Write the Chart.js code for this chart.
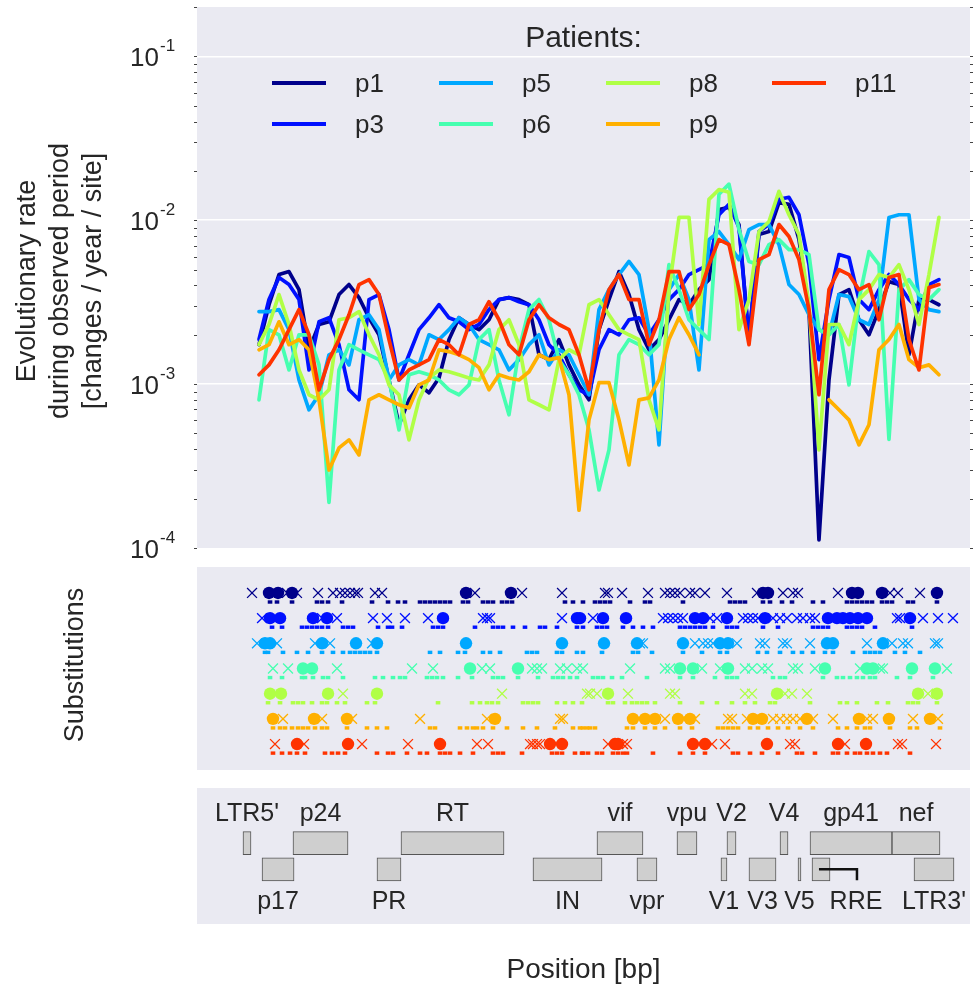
<!DOCTYPE html>
<html><head><meta charset="utf-8">
<script src="https://cdn.jsdelivr.net/npm/chart.js@4.4.0/dist/chart.umd.min.js"></script>
<style>
html,body{margin:0;padding:0;background:#fff;}
#wrap{position:relative;width:979px;height:988px;}
canvas{position:absolute;left:0;top:0;}
</style></head><body>
<div id="wrap">
<canvas id="cA" width="979" height="988"></canvas>
<canvas id="cB" width="979" height="988"></canvas>
<canvas id="cC" width="979" height="988"></canvas>
</div>
<script>
// ---------------- data ----------------
const patients = ['p1','p3','p5','p6','p8','p9','p11'];
const colors = ['#00008b','#0010ff','#00a8ff','#46ffb0','#b0ff46','#ffb000','#ff3300'];

// genome positions (bp) of the sliding-window rate estimates
const positions = [750, 875, 1000, 1125, 1250, 1375, 1500, 1625, 1750, 1875, 2000, 2125, 2250, 2375, 2500, 2625, 2750, 2875, 3000, 3125, 3250, 3375, 3500, 3625, 3750, 3875, 4000, 4125, 4250, 4375, 4500, 4625, 4750, 4875, 5000, 5125, 5250, 5375, 5500, 5625, 5750, 5875, 6000, 6125, 6250, 6375, 6500, 6625, 6750, 6875, 7000, 7125, 7250, 7375, 7500, 7625, 7750, 7875, 8000, 8125, 8250, 8375, 8500, 8625, 8750, 8875, 9000, 9125, 9250];

const rateP1 = [0.00174, 0.00305, 0.00466, 0.00486, 0.00377, 0.00162, 0.00231, 0.00240, 0.00352, 0.00405,
 0.00337, 0.00254, 0.00200, 0.00106, 0.000565, 0.000802, 0.000990, 0.000885, 0.00109, 0.00187,
 0.00254, 0.00231, 0.00215, 0.00247, 0.00328, 0.00337, 0.00328, 0.00305, 0.00151, 0.00141,
 0.00187, 0.00131, 0.000990, 0.000802, 0.00215, 0.00328, 0.00486, 0.00352, 0.00215, 0.00162,
 0.00187, 0.00247, 0.00328, 0.00305, 0.00377, 0.00434, 0.0116, 0.0120, 0.00941, 0.00187,
 0.00818, 0.00853, 0.0128, 0.0125, 0.00762, 0.00285, 0.000112, 0.00106, 0.00352, 0.00377,
 0.00247, 0.00200, 0.00285, 0.00422, 0.00405, 0.00151, 0.00328, 0.00328, 0.00305];
const rateP3 = [0.00187, 0.00328, 0.00447, 0.00405, 0.00328, 0.00122, 0.00240, 0.00254, 0.00174, 0.000923,
 0.000802, 0.00328, 0.00352, 0.00215, 0.00106, 0.00151, 0.00215, 0.00254, 0.00305, 0.00254,
 0.00240, 0.00215, 0.00231, 0.00285, 0.00328, 0.00337, 0.00318, 0.00305, 0.00247, 0.00174,
 0.00151, 0.00114, 0.000923, 0.000861, 0.00162, 0.00215, 0.00200, 0.00247, 0.00254, 0.00200,
 0.00247, 0.00328, 0.00377, 0.00466, 0.00500, 0.00536, 0.0108, 0.0125, 0.00904, 0.00187,
 0.00853, 0.00941, 0.0134, 0.0138, 0.0108, 0.00536, 0.00141, 0.00328, 0.00617, 0.00592,
 0.00328, 0.00285, 0.00377, 0.00466, 0.00405, 0.00328, 0.00285, 0.00405, 0.00434];
const rateP5 = [0.00277, 0.00277, 0.00285, 0.00215, 0.00106, 0.000697, 0.000861, 0.00151, 0.00162, 0.00131,
 0.00247, 0.00265, 0.00215, 0.00106, 0.00131, 0.00141, 0.00131, 0.00200, 0.00187, 0.00215,
 0.00254, 0.00231, 0.00187, 0.00174, 0.00162, 0.00122, 0.00141, 0.00174, 0.00200, 0.00131,
 0.00162, 0.00151, 0.00114, 0.000861, 0.00285, 0.00377, 0.00466, 0.00560, 0.00466, 0.00215,
 0.000426, 0.00377, 0.00466, 0.00328, 0.00122, 0.00762, 0.00853, 0.00710, 0.00575, 0.00877,
 0.00941, 0.00941, 0.00710, 0.00405, 0.00352, 0.00265, 0.00215, 0.00200, 0.00352, 0.00342,
 0.00247, 0.00231, 0.00328, 0.0104, 0.0108, 0.0108, 0.00328, 0.00285, 0.00277];
const rateP6 = [0.000802, 0.00215, 0.00200, 0.00122, 0.00200, 0.00200, 0.00131, 0.00019, 0.00122, 0.00174,
 0.00162, 0.00151, 0.00141, 0.00106, 0.000526, 0.00114, 0.00119, 0.00114, 0.00106, 0.000923,
 0.000861, 0.000990, 0.00187, 0.00215, 0.00106, 0.000650, 0.00162, 0.00285, 0.00328, 0.00247,
 0.00141, 0.00114, 0.000861, 0.000526, 0.000226, 0.000397, 0.00151, 0.00187, 0.00174, 0.00151,
 0.00174, 0.00536, 0.00377, 0.00247, 0.00215, 0.00187, 0.0144, 0.0166, 0.00877, 0.00560,
 0.00536, 0.00710, 0.00762, 0.00662, 0.00662, 0.00617, 0.00215, 0.00200, 0.00231, 0.000990,
 0.00328, 0.00644, 0.00536, 0.00046, 0.00377, 0.00434, 0.00352, 0.00328, 0.00377];
const rateP8 = [0.00174, 0.00231, 0.00352, 0.00231, 0.00122, 0.000861, 0.000802, 0.000923, 0.00247, 0.00254,
 0.00277, 0.00200, 0.00151, 0.000990, 0.000861, 0.000457, 0.000802, 0.00109, 0.00122, 0.00119,
 0.00114, 0.00109, 0.00106, 0.00131, 0.00215, 0.00247, 0.00174, 0.000802, 0.000748, 0.000697,
 0.00141, 0.00162, 0.00151, 0.00305, 0.00328, 0.00265, 0.00215, 0.00200, 0.00187, 0.000802,
 0.000526, 0.00377, 0.0104, 0.0104, 0.00231, 0.0134, 0.0154, 0.0148, 0.00215, 0.00328,
 0.00853, 0.00982, 0.0150, 0.0108, 0.00818, 0.00305, 0.000397, 0.00231, 0.00231, 0.00174,
 0.00328, 0.00377, 0.00466, 0.00447, 0.00536, 0.00377, 0.00231, 0.00466, 0.0104];
const rateP9 = [0.00162, 0.00174, 0.00240, 0.00174, 0.00187, 0.00162, 0.000802, 0.000299, 0.000408, 0.000457,
 0.000370, 0.000802, 0.000861, 0.000802, 0.000748, 0.000716, 0.000990, 0.00106, 0.00162, 0.00158,
 0.00151, 0.00141, 0.00126, 0.000923, 0.00114, 0.00109, 0.00106, 0.00119, 0.00151, 0.00141,
 0.00145, 0.000861, 0.00017, 0.000605, 0.00102, 0.00102, 0.000605, 0.000321, 0.000802, 0.000824,
 0.00106, 0.00187, 0.00254, 0.00200, 0.00151, null, null, null, null, null,
 null, null, null, null, null, null, null, 0.000802, 0.000697, 0.000605,
 0.000426, 0.000565, 0.00162, 0.00187, 0.00231, 0.00141, 0.00126, 0.00131, 0.00114];
const rateP11 = [0.00114, 0.00131, 0.00162, 0.00215, 0.00285, 0.00200, 0.000923, 0.00141, 0.00187, 0.00265,
 0.00405, 0.00434, 0.00352, 0.00187, 0.00106, 0.00122, 0.00131, 0.00141, 0.00187, 0.00174,
 0.00151, 0.00231, 0.00247, 0.00318, 0.00247, 0.00174, 0.00151, 0.00247, 0.00305, 0.00254,
 0.00231, 0.00215, 0.00151, 0.000923, 0.00215, 0.00377, 0.00466, 0.00328, 0.00328, 0.00174,
 0.00247, 0.00486, 0.00486, 0.00285, 0.00352, 0.00536, 0.00762, 0.00710, 0.00377, 0.00174,
 0.00575, 0.00617, 0.00941, 0.00796, 0.00575, 0.00285, 0.000861, 0.00377, 0.00500, 0.00466,
 0.00377, 0.00405, 0.00247, 0.00447, 0.00466, 0.00187, 0.00122, 0.00388, 0.00405];
const rateSeries = [rateP1, rateP3, rateP5, rateP6, rateP8, rateP9, rateP11];

// y tick labels (base + exponent)
const yTickValues = [1e-4, 1e-3, 1e-2, 1e-1];
const yTickBase = ['10','10','10','10'];
const yTickExp = ['-4','-3','-2','-1'];

// substitutions (bp) per patient, in patient order
const crossPos = [
 [663, 1100, 1225, 1488, 1675, 1763, 1825, 1888, 1950, 1988, 2200, 2288, 3450, 4038, 4538, 5075, 5113, 5288, 5613, 5825, 5888, 5950, 6013, 6138, 6200, 6325, 6600, 6975, 7300, 7425, 7488, 7988, 8638, 8738, 9013],
 [788, 1538, 1725, 2175, 2350, 2575, 2863, 3550, 3600, 3638, 4538, 4925, 5800, 5863, 5925, 5988, 6050, 6388, 6475, 6800, 6863, 6925, 6988, 7175, 7263, 7350, 7475, 7550, 7638, 7700, 8725, 8763, 9050, 9238, 9425],
 [725, 975, 1450, 1638, 2163, 5513, 5550, 6200, 6300, 6363, 6425, 6725, 7013, 7075, 7300, 7350, 7638, 8350, 8663, 8800, 8863, 9200, 9238],
 [925, 1113, 1725, 2663, 2925, 3538, 3638, 4163, 4225, 4288, 4513, 4600, 4725, 4800, 5388, 5825, 5888, 6288, 6513, 6825, 6913, 7038, 7113, 7425, 7488, 7700, 8263, 8513, 8550, 9350],
 [1800, 3788, 4850, 4888, 4975, 5363, 5888, 5950, 6825, 6913, 7325, 7413, 7600, 9113],
 [1050, 1538, 1913, 2763, 3600, 4513, 4550, 5825, 6050, 6200, 6613, 6663, 6850, 7175, 7263, 7350, 7425, 7513, 7675, 7925, 8350, 8425, 8925, 9238],
 [950, 1313, 2038, 2613, 3475, 3613, 4138, 4175, 4225, 4263, 5113, 5300, 5350, 6413, 6575, 7388, 7450, 8075, 8738, 8788, 9213]
];
const bigPos = [
 [875, 988, 1163, 3338, 3900, 7050, 7113, 8163, 8238, 8538, 9225],
 [888, 1013, 1425, 1600, 3050, 4725, 4763, 5050, 5338, 6200, 6300, 6600, 7075, 7863, 7975, 8050, 8138, 8238, 8350, 8888],
 [825, 888, 1538, 1963, 2225, 3338, 4538, 5063, 5475, 6050, 6513, 6613, 7850, 7925, 8550],
 [1300, 1413, 3388, 3988, 6013, 6175, 6613, 7825, 8350, 8425, 8913, 9200],
 [888, 1025, 1613, 2225, 5113, 7225, 8988, 9225],
 [925, 1438, 1850, 3700, 5425, 5575, 5700, 5988, 6138, 6925, 7038, 7600, 8250, 8625, 9138],
 [1225, 1863, 3013, 4388, 4538, 5200, 5238, 6175, 6325, 7100, 7988, 8338]
];
const smallPos = [
 [888, 975, 1163, 1475, 1538, 1613, 1788, 2163, 2363, 2488, 2575, 2763, 2825, 2888, 2950, 3013, 3075, 3138, 3300, 3363, 3550, 3613, 3675, 3788, 3850, 3913, 4575, 4675, 4800, 4950, 5013, 5075, 5138, 5388, 5575, 5638, 6050, 6638, 6700, 6763, 6825, 7050, 7138, 7288, 7413, 7675, 7800, 8100, 8163, 8225, 8288, 8350, 8413, 8538, 8600, 8663, 8863, 8925, 9225],
 [913, 1038, 1288, 1350, 1413, 1475, 1538, 1613, 1800, 1863, 1925, 2238, 2363, 2413, 2538, 2925, 2988, 3050, 3450, 3675, 3738, 3800, 3925, 4075, 4263, 4325, 4475, 4725, 4800, 4975, 5038, 5100, 5300, 5425, 5550, 5675, 6013, 6075, 6138, 6200, 6263, 6325, 6425, 6600, 6663, 6725, 7050, 7238, 7675, 7738, 7800, 7863, 8100, 8163, 8225, 8288, 8450, 8913],
 [825, 863, 1050, 1225, 1363, 1538, 1675, 1800, 1888, 1950, 2013, 2075, 2138, 2225, 2888, 3013, 3238, 3325, 3550, 3638, 3763, 4100, 4163, 4225, 4475, 4538, 4725, 4800, 5038, 5425, 5488, 5663, 6050, 6288, 6513, 6600, 6988, 7100, 7263, 7425, 7538, 7675, 7825, 7925, 8175, 8325, 8388, 8450, 8513, 8700, 8825, 9013],
 [888, 1038, 1288, 1325, 1425, 1550, 1613, 1800, 2200, 2300, 2425, 2513, 2575, 2850, 2913, 2975, 3050, 3238, 3413, 3675, 3738, 3800, 3988, 4238, 4425, 4488, 4550, 4638, 4725, 4925, 4988, 5050, 5163, 5288, 5600, 6013, 6175, 6450, 6600, 6663, 6725, 7175, 7263, 7325, 7800, 7975, 8050, 8138, 8225, 8300, 8388, 8450, 8725, 8888, 9175],
 [863, 1013, 1175, 1238, 1300, 1413, 1538, 1600, 1725, 1825, 2100, 2200, 2988, 3413, 3513, 3600, 3663, 3738, 4050, 4113, 4175, 4238, 4475, 4575, 4675, 4788, 5113, 5175, 5325, 5413, 5475, 5538, 5600, 5700, 6013, 6288, 6475, 6663, 6825, 6950, 7138, 7200, 7638, 8013, 8100, 8225, 8475, 8613, 8863, 8925, 8988, 9225],
 [925, 1013, 1075, 1163, 1238, 1300, 1363, 1450, 1538, 1600, 1850, 2100, 2225, 2350, 2888, 2950, 3263, 3350, 3425, 3475, 3550, 3675, 3850, 4050, 4225, 4450, 4675, 4763, 4800, 4850, 4888, 4950, 5350, 5425, 5575, 5700, 5825, 6013, 6163, 6488, 6550, 6613, 6675, 6738, 6888, 6988, 7113, 7238, 7363, 7513, 7675, 7988, 8100, 8225, 8325, 8388, 8638, 8888, 8975, 9263],
 [925, 1038, 1138, 1225, 1325, 1575, 1663, 1738, 1825, 2225, 2363, 2425, 2600, 2763, 2850, 3013, 3075, 3138, 3263, 3425, 3675, 3738, 3800, 4038, 4413, 4475, 4538, 4700, 4788, 4800, 4863, 4975, 5038, 5175, 5238, 5300, 5350, 5675, 6013, 6175, 6325, 6675, 6738, 6888, 7038, 7238, 7475, 7538, 7700, 7925, 7988, 8100, 8200, 8263, 8350, 8425, 8513, 8600, 8888]
];

// genome annotation
const featureNames = ["LTR5'", "p17", "p24", "PR", "RT", "IN", "vif", "vpr", "vpu", "V1", "V2", "V3", "V4", "V5", "RRE", "gp41", "nef", "LTR3'"];
const featureStart = [550, 788, 1175, 2225, 2525, 4175, 4975, 5475, 5975, 6525, 6600, 6875, 7263, 7488, 7663, 7638, 8663, 8938];
const featureEnd   = [650, 1188, 1863, 2525, 3813, 5038, 5550, 5725, 6225, 6600, 6713, 7213, 7363, 7525, 7888, 8663, 9263, 9438];
const featureRow   = [0, 1, 0, 1, 0, 1, 0, 1, 0, 1, 0, 1, 0, 1, 1, 0, 0, 1];

// ---------------- style / layout ----------------
const FONT = '"Liberation Sans", Arial, Helvetica, sans-serif';
const TEXT = '#262626';
const BG = '#eaeaf2';
const X_MIN = -25, X_MAX = 9638;
const RRE_LABEL_AT = 8213, RRE_LEADER = [7750, 8225];

function isDecade(v){ if(!v) return false; const l = Math.log10(v); return Math.abs(l - Math.round(l)) < 1e-6; }

const bgPlugin = { id:'bg', beforeDraw(chart){ const {ctx, chartArea:a} = chart; ctx.save(); ctx.fillStyle = BG; ctx.fillRect(a.left, a.top, a.right-a.left, a.bottom-a.top); ctx.restore(); } };

const topDecor = { id:'topDecor', afterDraw(chart){
  const {ctx, chartArea:a} = chart; const y = chart.scales.y;
  ctx.save();
  ctx.fillStyle = TEXT;
  yTickValues.forEach((v,k)=>{
    const py = y.getPixelForValue(v);
    ctx.font = '26px ' + FONT; ctx.textAlign = 'right'; ctx.textBaseline = 'alphabetic';
    ctx.fillText(yTickBase[k], a.left - 38, py + 9.5);
    ctx.font = '17px ' + FONT; ctx.textAlign = 'left';
    ctx.fillText(yTickExp[k], a.left - 37, py - 5);
  });
  ctx.strokeStyle = '#444'; ctx.lineWidth = 1;
  for (let e = -4; e <= -1; e++) for (let k = 1; k <= 9; k++) {
    const v = k * Math.pow(10, e); if (v > 0.2) continue;
    const py = Math.round(y.getPixelForValue(v)) + 0.5;
    ctx.beginPath(); ctx.moveTo(a.left - 3, py); ctx.lineTo(a.left, py); ctx.moveTo(a.right, py); ctx.lineTo(a.right + 3, py); ctx.stroke();
  }
  // legend
  ctx.font = '30px ' + FONT; ctx.textAlign = 'center'; ctx.textBaseline = 'alphabetic';
  ctx.fillText('Patients:', (a.left + a.right) / 2, 47);
  const colX = [272, 439, 606, 772], rowY = [83, 124];
  patients.forEach((p,i)=>{
    const cx = colX[Math.floor(i/2)], cy = rowY[i%2];
    ctx.strokeStyle = colors[i]; ctx.lineWidth = 3.8; ctx.beginPath(); ctx.moveTo(cx, cy); ctx.lineTo(cx + 54, cy); ctx.stroke();
    ctx.font = '26px ' + FONT; ctx.textAlign = 'left'; ctx.fillStyle = TEXT;
    ctx.fillText(p, cx + 83, cy + 9);
  });
  // y title
  const lines = ['Evolutionary rate', 'during observed period', '[changes / year / site]'];
  const xs = [35, 68, 101];
  ctx.font = '27px ' + FONT; ctx.textAlign = 'center'; ctx.textBaseline = 'alphabetic';
  lines.forEach((t,k)=>{ ctx.save(); ctx.translate(xs[k], 281); ctx.rotate(-Math.PI/2); ctx.fillText(t, 0, 0); ctx.restore(); });
  ctx.restore();
}};

new Chart(document.getElementById('cA'), {
  type: 'line',
  data: { datasets: patients.map((p,i)=>({
    label: p,
    data: positions.map((x,j)=>({x: x, y: rateSeries[i][j]})),
    borderColor: colors[i], backgroundColor: colors[i],
    borderWidth: 3.7, pointRadius: 0, tension: 0, spanGaps: false, fill: false,
    borderJoinStyle: 'round', borderCapStyle: 'round',
    order: patients.length - i
  }))},
  options: {
    responsive: false, animation: false, devicePixelRatio: 1, events: [],
    layout: { padding: { left: 197, right: 9, top: 7, bottom: 440 } },
    plugins: { legend: { display: false }, tooltip: { enabled: false } },
    scales: {
      x: { type: 'linear', min: X_MIN, max: X_MAX, display: false },
      y: { type: 'logarithmic', min: 1e-4, max: 0.2,
           border: { display: false },
           grid: { color: c => (c.tick && isDecade(c.tick.value) && c.tick.value > 1.5e-4) ? '#ffffff' : 'rgba(0,0,0,0)', lineWidth: 1.5, drawTicks: false },
           ticks: { display: false },
           afterFit: s => { s.width = 0; } }
    }
  },
  plugins: [bgPlugin, topDecor]
});

// ---------------- substitutions ----------------
const midDecor = { id:'midDecor', afterDraw(chart){
  const {ctx} = chart; ctx.save(); ctx.fillStyle = TEXT; ctx.font = '27px ' + FONT; ctx.textAlign = 'center'; ctx.textBaseline = 'alphabetic';
  ctx.translate(83, 665); ctx.rotate(-Math.PI/2); ctx.fillText('Substitutions', 0, 0); ctx.restore();
}};
const subDatasets = [];
patients.forEach((p,i)=>{
  subDatasets.push({ data: smallPos[i].map(x=>({x: x, y: i + 0.36})), pointStyle: 'line', pointRadius: 2.3, borderWidth: 3.4, borderColor: colors[i], backgroundColor: colors[i] });
  subDatasets.push({ data: crossPos[i].map(x=>({x: x, y: i})), pointStyle: 'crossRot', pointRadius: 7, borderWidth: 1.3, borderColor: colors[i], backgroundColor: colors[i] });
  subDatasets.push({ data: bigPos[i].map(x=>({x: x, y: i})), pointStyle: 'circle', pointRadius: 6.2, borderWidth: 0, borderColor: colors[i], backgroundColor: colors[i] });
});
new Chart(document.getElementById('cB'), {
  type: 'scatter',
  data: { datasets: subDatasets },
  options: {
    responsive: false, animation: false, devicePixelRatio: 1, events: [],
    layout: { padding: { left: 197, right: 9, top: 567, bottom: 218 } },
    plugins: { legend: { display: false }, tooltip: { enabled: false } },
    scales: {
      x: { type: 'linear', min: X_MIN, max: X_MAX, display: false },
      y: { type: 'linear', min: -1.03, max: 7.03, reverse: true, display: false }
    }
  },
  plugins: [bgPlugin, midDecor]
});

// ---------------- genome annotation ----------------
const annotDecor = { id:'annotDecor', afterDraw(chart){
  const {ctx, chartArea:a} = chart; const x = chart.scales.x, y = chart.scales.y;
  ctx.save(); ctx.fillStyle = TEXT; ctx.font = '25px ' + FONT; ctx.textAlign = 'center'; ctx.textBaseline = 'alphabetic';
  featureNames.forEach((n,i)=>{
    const lx = n === 'RRE' ? RRE_LABEL_AT : (featureStart[i] + featureEnd[i]) / 2;
    const px = x.getPixelForValue(lx);
    const ry = y.getPixelForValue(featureRow[i]);
    ctx.fillText(n, px, featureRow[i] === 0 ? ry - 22 : ry + 40);
  });
  const ri = featureNames.indexOf('RRE'); const ry = y.getPixelForValue(featureRow[ri]);
  ctx.strokeStyle = '#111'; ctx.lineWidth = 2.5; ctx.beginPath();
  ctx.moveTo(x.getPixelForValue(RRE_LEADER[0]), ry); ctx.lineTo(x.getPixelForValue(RRE_LEADER[1]), ry); ctx.lineTo(x.getPixelForValue(RRE_LEADER[1]), ry + 11); ctx.stroke();
  ctx.font = '28px ' + FONT;
  ctx.fillText('Position [bp]', (a.left + a.right) / 2, 978);
  ctx.restore();
}};
new Chart(document.getElementById('cC'), {
  type: 'bar',
  data: { datasets: [{
    data: featureNames.map((n,i)=>({x: [featureStart[i], featureEnd[i]], y: featureRow[i]})),
    backgroundColor: '#cfcfcf', borderColor: '#555555', borderWidth: 1, borderSkipped: false, barThickness: 23
  }]},
  options: {
    indexAxis: 'y', responsive: false, animation: false, devicePixelRatio: 1, events: [],
    layout: { padding: { left: 197, right: 9, top: 788, bottom: 64 } },
    plugins: { legend: { display: false }, tooltip: { enabled: false } },
    scales: {
      x: { type: 'linear', min: X_MIN, max: X_MAX, display: false },
      y: { type: 'linear', min: -1.667, max: 2.651, reverse: true, display: false }
    }
  },
  plugins: [bgPlugin, annotDecor]
});
</script>
</body></html>
